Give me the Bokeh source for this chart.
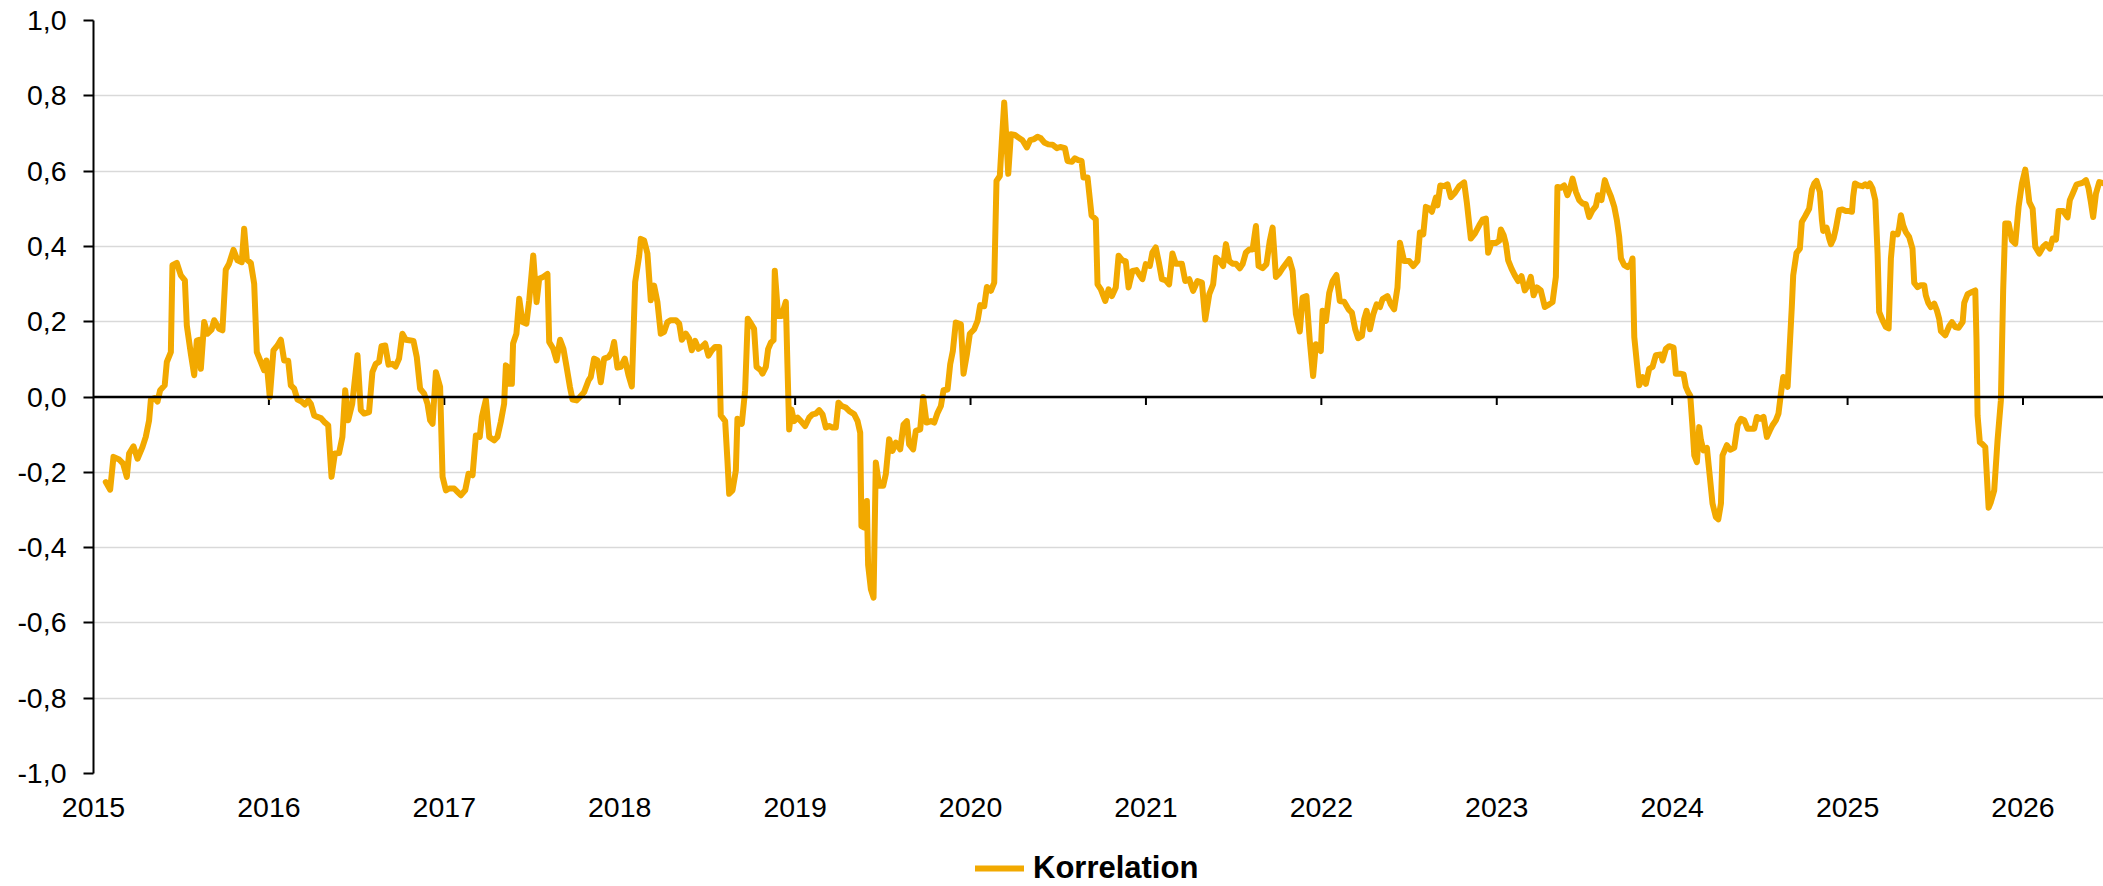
from bokeh.plotting import figure
from bokeh.layouts import column
from bokeh.models import (FixedTicker, CustomJSTickFormatter, Span, Legend,
                          LegendItem, Range1d)
from bokeh.embed import file_html
from bokeh.resources import INLINE

# ---------------- data ----------------
YEAR_TICKS = [2015, 2016, 2017, 2018, 2019, 2020, 2021, 2022, 2023, 2024, 2025, 2026]
Y_TICKS = [-1.0, -0.8, -0.6, -0.4, -0.2, 0.0, 0.2, 0.4, 0.6, 0.8, 1.0]
SERIES_NAME = "Korrelation"

dates = [
    2015.070, 2015.095, 2015.114, 2015.146, 2015.169, 2015.190, 2015.203, 2015.228, 2015.251, 2015.279,
    2015.298, 2015.317, 2015.327, 2015.349, 2015.365, 2015.380, 2015.406, 2015.418, 2015.441, 2015.450,
    2015.475, 2015.498, 2015.521, 2015.532, 2015.555, 2015.574, 2015.589, 2015.602, 2015.612, 2015.631,
    2015.650, 2015.673, 2015.688, 2015.716, 2015.735, 2015.754, 2015.773, 2015.798, 2015.821, 2015.845,
    2015.859, 2015.874, 2015.897, 2015.916, 2015.931, 2015.954, 2015.973, 2015.986, 2016.005, 2016.026,
    2016.049, 2016.068, 2016.087, 2016.110, 2016.125, 2016.144, 2016.163, 2016.186, 2016.205, 2016.224,
    2016.239, 2016.258, 2016.277, 2016.296, 2016.315, 2016.338, 2016.357, 2016.376, 2016.400, 2016.419,
    2016.435, 2016.452, 2016.475, 2016.505, 2016.524, 2016.543, 2016.571, 2016.590, 2016.609, 2016.628,
    2016.642, 2016.663, 2016.682, 2016.704, 2016.722, 2016.742, 2016.761, 2016.780, 2016.809, 2016.824,
    2016.843, 2016.862, 2016.885, 2016.904, 2016.919, 2016.933, 2016.952, 2016.976, 2016.990, 2017.009,
    2017.028, 2017.056, 2017.075, 2017.094, 2017.119, 2017.138, 2017.161, 2017.180, 2017.202, 2017.214,
    2017.237, 2017.256, 2017.284, 2017.303, 2017.322, 2017.341, 2017.351, 2017.360, 2017.370, 2017.385,
    2017.392, 2017.411, 2017.427, 2017.446, 2017.468, 2017.484, 2017.507, 2017.526, 2017.541, 2017.564,
    2017.588, 2017.598, 2017.621, 2017.640, 2017.660, 2017.679, 2017.697, 2017.716, 2017.731, 2017.754,
    2017.773, 2017.797, 2017.822, 2017.835, 2017.854, 2017.873, 2017.892, 2017.911, 2017.936, 2017.955,
    2017.968, 2017.987, 2018.006, 2018.029, 2018.050, 2018.069, 2018.088, 2018.111, 2018.120, 2018.139,
    2018.158, 2018.177, 2018.196, 2018.215, 2018.234, 2018.253, 2018.272, 2018.291, 2018.320, 2018.339,
    2018.354, 2018.377, 2018.396, 2018.411, 2018.430, 2018.449, 2018.472, 2018.487, 2018.506, 2018.525,
    2018.544, 2018.567, 2018.576, 2018.601, 2018.614, 2018.624, 2018.643, 2018.662, 2018.671, 2018.696,
    2018.715, 2018.730, 2018.747, 2018.766, 2018.780, 2018.804, 2018.814, 2018.833, 2018.846, 2018.861,
    2018.877, 2018.884, 2018.903, 2018.922, 2018.947, 2018.956, 2018.966, 2018.979, 2018.994, 2019.014,
    2019.033, 2019.057, 2019.080, 2019.099, 2019.118, 2019.137, 2019.156, 2019.175, 2019.194, 2019.213,
    2019.232, 2019.247, 2019.266, 2019.289, 2019.308, 2019.337, 2019.356, 2019.371, 2019.378, 2019.394,
    2019.409, 2019.416, 2019.432, 2019.447, 2019.460, 2019.479, 2019.502, 2019.517, 2019.536, 2019.555,
    2019.574, 2019.599, 2019.618, 2019.637, 2019.650, 2019.673, 2019.688, 2019.713, 2019.730, 2019.749,
    2019.774, 2019.793, 2019.812, 2019.831, 2019.846, 2019.869, 2019.884, 2019.899, 2019.916, 2019.945,
    2019.960, 2019.979, 2019.996, 2020.021, 2020.040, 2020.055, 2020.078, 2020.093, 2020.116, 2020.135,
    2020.148, 2020.167, 2020.178, 2020.192, 2020.205, 2020.215, 2020.230, 2020.253, 2020.274, 2020.296,
    2020.321, 2020.340, 2020.363, 2020.382, 2020.401, 2020.420, 2020.443, 2020.467, 2020.492, 2020.511,
    2020.538, 2020.553, 2020.578, 2020.595, 2020.614, 2020.633, 2020.644, 2020.667, 2020.690, 2020.714,
    2020.724, 2020.743, 2020.768, 2020.787, 2020.806, 2020.828, 2020.844, 2020.866, 2020.885, 2020.901,
    2020.923, 2020.946, 2020.961, 2020.980, 2020.999, 2021.022, 2021.037, 2021.056, 2021.075, 2021.091,
    2021.113, 2021.132, 2021.151, 2021.170, 2021.205, 2021.224, 2021.247, 2021.269, 2021.294, 2021.319,
    2021.338, 2021.361, 2021.383, 2021.399, 2021.421, 2021.440, 2021.456, 2021.475, 2021.494, 2021.513,
    2021.535, 2021.551, 2021.570, 2021.589, 2021.608, 2021.627, 2021.642, 2021.665, 2021.687, 2021.706,
    2021.722, 2021.741, 2021.760, 2021.779, 2021.798, 2021.817, 2021.836, 2021.855, 2021.877, 2021.893,
    2021.915, 2021.934, 2021.953, 2021.969, 2021.984, 2021.997, 2022.007, 2022.026, 2022.045, 2022.064,
    2022.086, 2022.105, 2022.130, 2022.155, 2022.174, 2022.193, 2022.210, 2022.231, 2022.244, 2022.258,
    2022.277, 2022.296, 2022.315, 2022.334, 2022.349, 2022.377, 2022.396, 2022.415, 2022.434, 2022.448,
    2022.472, 2022.501, 2022.524, 2022.548, 2022.562, 2022.581, 2022.596, 2022.615, 2022.630, 2022.653,
    2022.662, 2022.678, 2022.700, 2022.719, 2022.738, 2022.761, 2022.786, 2022.814, 2022.830, 2022.852,
    2022.875, 2022.900, 2022.919, 2022.938, 2022.951, 2022.970, 2022.995, 2023.014, 2023.023, 2023.039,
    2023.052, 2023.065, 2023.084, 2023.103, 2023.122, 2023.141, 2023.160, 2023.179, 2023.194, 2023.210,
    2023.229, 2023.251, 2023.274, 2023.299, 2023.318, 2023.337, 2023.346, 2023.365, 2023.384, 2023.403,
    2023.419, 2023.432, 2023.451, 2023.470, 2023.489, 2023.508, 2023.527, 2023.546, 2023.565, 2023.578,
    2023.597, 2023.616, 2023.632, 2023.651, 2023.670, 2023.685, 2023.698, 2023.708, 2023.727, 2023.746,
    2023.765, 2023.774, 2023.784, 2023.799, 2023.812, 2023.831, 2023.850, 2023.869, 2023.888, 2023.907,
    2023.936, 2023.945, 2023.964, 2023.983, 2024.008, 2024.021, 2024.046, 2024.065, 2024.078, 2024.091,
    2024.103, 2024.116, 2024.126, 2024.141, 2024.154, 2024.164, 2024.179, 2024.198, 2024.211, 2024.230,
    2024.249, 2024.263, 2024.278, 2024.287, 2024.312, 2024.331, 2024.354, 2024.373, 2024.392, 2024.411,
    2024.430, 2024.449, 2024.468, 2024.483, 2024.502, 2024.521, 2024.540, 2024.557, 2024.572, 2024.591,
    2024.606, 2024.620, 2024.633, 2024.644, 2024.658, 2024.667, 2024.682, 2024.690, 2024.709, 2024.728,
    2024.739, 2024.758, 2024.781, 2024.797, 2024.810, 2024.823, 2024.842, 2024.854, 2024.861, 2024.880,
    2024.895, 2024.905, 2024.920, 2024.933, 2024.952, 2024.971, 2024.990, 2025.009, 2025.025, 2025.032,
    2025.042, 2025.063, 2025.085, 2025.101, 2025.114, 2025.127, 2025.142, 2025.158, 2025.171, 2025.180,
    2025.199, 2025.218, 2025.234, 2025.247, 2025.260, 2025.285, 2025.294, 2025.304, 2025.317, 2025.332,
    2025.351, 2025.370, 2025.380, 2025.399, 2025.418, 2025.437, 2025.446, 2025.460, 2025.475, 2025.494,
    2025.509, 2025.522, 2025.532, 2025.557, 2025.579, 2025.595, 2025.614, 2025.633, 2025.656, 2025.665,
    2025.684, 2025.709, 2025.728, 2025.735, 2025.741, 2025.754, 2025.770, 2025.785, 2025.804, 2025.817,
    2025.836, 2025.855, 2025.874, 2025.887, 2025.899, 2025.918, 2025.937, 2025.956, 2025.975, 2025.994,
    2026.013, 2026.026, 2026.036, 2026.055, 2026.070, 2026.093, 2026.115, 2026.131, 2026.153, 2026.169,
    2026.188, 2026.203, 2026.229, 2026.254, 2026.267, 2026.283, 2026.305, 2026.324, 2026.340, 2026.359,
    2026.374, 2026.387, 2026.400, 2026.416, 2026.435, 2026.461,
]

korrelation = [
    -0.226, -0.246, -0.159, -0.166, -0.177, -0.212, -0.150, -0.131, -0.164, -0.133,
    -0.106, -0.062, -0.007, -0.003, -0.012, 0.018, 0.031, 0.093, 0.119, 0.350,
    0.356, 0.323, 0.310, 0.190, 0.115, 0.058, 0.150, 0.152, 0.075, 0.199,
    0.168, 0.179, 0.204, 0.181, 0.177, 0.338, 0.354, 0.391, 0.363, 0.358,
    0.447, 0.365, 0.356, 0.301, 0.119, 0.093, 0.071, 0.097, 0.000, 0.124,
    0.137, 0.152, 0.097, 0.096, 0.031, 0.022, -0.007, -0.012, -0.020, -0.009,
    -0.018, -0.049, -0.053, -0.056, -0.066, -0.075, -0.212, -0.150, -0.149, -0.106,
    0.018, -0.062, -0.018, 0.111, -0.035, -0.044, -0.040, 0.066, 0.088, 0.093,
    0.135, 0.137, 0.086, 0.088, 0.081, 0.102, 0.168, 0.152, 0.150, 0.149,
    0.106, 0.022, 0.009, -0.018, -0.062, -0.071, 0.066, 0.027, -0.212, -0.248,
    -0.243, -0.243, -0.252, -0.261, -0.248, -0.204, -0.208, -0.102, -0.106, -0.053,
    -0.007, -0.106, -0.115, -0.106, -0.066, -0.018, 0.084, 0.080, 0.035, 0.035,
    0.142, 0.168, 0.261, 0.199, 0.195, 0.257, 0.376, 0.252, 0.314, 0.319,
    0.327, 0.146, 0.128, 0.097, 0.152, 0.128, 0.080, 0.027, -0.007, -0.009,
    0.000, 0.013, 0.044, 0.053, 0.102, 0.097, 0.039, 0.102, 0.106, 0.119,
    0.146, 0.078, 0.080, 0.102, 0.058, 0.028, 0.305, 0.376, 0.420, 0.416,
    0.381, 0.257, 0.296, 0.252, 0.168, 0.173, 0.199, 0.204, 0.204, 0.195,
    0.152, 0.168, 0.155, 0.124, 0.149, 0.128, 0.135, 0.142, 0.110, 0.124,
    0.133, 0.133, -0.049, -0.064, -0.168, -0.257, -0.248, -0.195, -0.058, -0.071,
    0.018, 0.208, 0.196, 0.181, 0.080, 0.071, 0.062, 0.080, 0.127, 0.144,
    0.151, 0.335, 0.215, 0.215, 0.253, 0.087, -0.086, -0.033, -0.064, -0.055,
    -0.064, -0.077, -0.055, -0.046, -0.044, -0.035, -0.046, -0.081, -0.077, -0.081,
    -0.081, -0.015, -0.024, -0.028, -0.037, -0.046, -0.064, -0.095, -0.343, -0.347,
    -0.276, -0.445, -0.511, -0.533, -0.174, -0.236, -0.236, -0.205, -0.112, -0.143,
    -0.121, -0.139, -0.073, -0.064, -0.126, -0.139, -0.090, -0.086, 0.000, -0.068,
    -0.064, -0.068, -0.042, -0.024, 0.018, 0.020, 0.087, 0.122, 0.198, 0.193,
    0.062, 0.113, 0.168, 0.180, 0.202, 0.244, 0.241, 0.292, 0.282, 0.304,
    0.574, 0.587, 0.676, 0.782, 0.680, 0.593, 0.698, 0.696, 0.689, 0.682,
    0.663, 0.682, 0.685, 0.691, 0.687, 0.676, 0.671, 0.670, 0.661, 0.664,
    0.661, 0.627, 0.625, 0.634, 0.629, 0.627, 0.583, 0.583, 0.482, 0.472,
    0.299, 0.286, 0.255, 0.286, 0.268, 0.291, 0.375, 0.363, 0.360, 0.291,
    0.335, 0.337, 0.326, 0.313, 0.353, 0.348, 0.384, 0.397, 0.354, 0.313,
    0.310, 0.299, 0.381, 0.354, 0.354, 0.308, 0.313, 0.282, 0.308, 0.304,
    0.206, 0.273, 0.299, 0.370, 0.361, 0.348, 0.406, 0.361, 0.354, 0.354,
    0.342, 0.353, 0.384, 0.392, 0.392, 0.454, 0.348, 0.342, 0.353, 0.415,
    0.450, 0.319, 0.328, 0.342, 0.354, 0.366, 0.335, 0.220, 0.174, 0.264,
    0.268, 0.149, 0.056, 0.140, 0.131, 0.122, 0.229, 0.202, 0.277, 0.308,
    0.324, 0.255, 0.253, 0.233, 0.224, 0.180, 0.156, 0.162, 0.206, 0.229,
    0.180, 0.220, 0.246, 0.239, 0.260, 0.268, 0.246, 0.233, 0.291, 0.410,
    0.361, 0.361, 0.348, 0.361, 0.437, 0.432, 0.505, 0.501, 0.492, 0.530,
    0.509, 0.562, 0.560, 0.565, 0.531, 0.542, 0.560, 0.570, 0.514, 0.421,
    0.434, 0.456, 0.471, 0.474, 0.383, 0.409, 0.409, 0.415, 0.445, 0.430,
    0.407, 0.363, 0.341, 0.323, 0.308, 0.321, 0.283, 0.297, 0.319, 0.270,
    0.291, 0.283, 0.239, 0.246, 0.252, 0.319, 0.558, 0.556, 0.562, 0.536,
    0.556, 0.580, 0.545, 0.523, 0.514, 0.512, 0.478, 0.496, 0.507, 0.536,
    0.523, 0.576, 0.554, 0.533, 0.505, 0.469, 0.425, 0.368, 0.350, 0.345,
    0.354, 0.368, 0.159, 0.089, 0.031, 0.053, 0.035, 0.075, 0.080, 0.111,
    0.113, 0.097, 0.128, 0.135, 0.131, 0.062, 0.062, 0.060, 0.027, 0.013,
    0.004, -0.080, -0.155, -0.173, -0.080, -0.115, -0.142, -0.135, -0.195, -0.283,
    -0.319, -0.325, -0.283, -0.155, -0.128, -0.140, -0.135, -0.075, -0.058, -0.062,
    -0.084, -0.084, -0.084, -0.053, -0.058, -0.053, -0.106, -0.089, -0.075, -0.062,
    -0.044, 0.009, 0.053, 0.051, 0.027, 0.106, 0.239, 0.323, 0.383, 0.394,
    0.465, 0.480, 0.500, 0.551, 0.567, 0.574, 0.545, 0.469, 0.441, 0.450,
    0.421, 0.406, 0.421, 0.447, 0.496, 0.498, 0.494, 0.494, 0.492, 0.533,
    0.567, 0.562, 0.560, 0.565, 0.560, 0.567, 0.554, 0.523, 0.381, 0.226,
    0.204, 0.186, 0.182, 0.368, 0.434, 0.432, 0.450, 0.483, 0.456, 0.438,
    0.425, 0.394, 0.303, 0.292, 0.297, 0.297, 0.270, 0.250, 0.239, 0.248,
    0.230, 0.208, 0.175, 0.164, 0.188, 0.199, 0.186, 0.184, 0.199, 0.250,
    0.273, 0.279, 0.283, 0.151, -0.049, -0.120, -0.126, -0.133, -0.294, -0.279,
    -0.248, -0.115, -0.009, 0.283, 0.461, 0.461, 0.416, 0.407, 0.505, 0.567,
    0.604, 0.558, 0.518, 0.500, 0.399, 0.381, 0.399, 0.406, 0.394, 0.421,
    0.418, 0.494, 0.494, 0.477, 0.523, 0.540, 0.564, 0.567, 0.569, 0.576,
    0.554, 0.518, 0.478, 0.540, 0.571, 0.567,
]

# ---------------- styling ----------------
LINE_COLOR = "#F2A900"
LINE_WIDTH = 6
FONT = "Liberation Sans"
TICK_LEN = 0.0212   # tick marks hanging below the zero line (data units, ~8px)

p = figure(width=2103, height=840, output_backend="svg", toolbar_location=None,
           x_range=Range1d(2015, 2026.459), y_range=Range1d(-1, 1),
           min_border_left=93, min_border_right=0, min_border_top=20, min_border_bottom=67,
           background_fill_color="white", border_fill_color="white")
p.outline_line_color = None

# grid
p.xgrid.visible = False
p.ygrid.grid_line_color = "#D9D9D9"
p.ygrid.grid_line_width = 1.5

# y axis
p.yaxis.ticker = FixedTicker(ticks=Y_TICKS)
p.yaxis.formatter = CustomJSTickFormatter(code="return tick.toFixed(1).replace('.', ',');")
p.yaxis.axis_line_color = "black"
p.yaxis.axis_line_width = 2
p.yaxis.major_tick_line_color = "black"
p.yaxis.major_tick_line_width = 2
p.yaxis.major_tick_out = 10
p.yaxis.major_tick_in = 0
p.yaxis.minor_tick_line_color = None
p.yaxis.major_label_standoff = 17
p.yaxis.major_label_text_font = FONT
p.yaxis.major_label_text_font_size = "28.5px"
p.yaxis.major_label_text_color = "black"

# x axis (labels only, at the bottom)
p.xaxis.ticker = FixedTicker(ticks=YEAR_TICKS)
p.xaxis.formatter = CustomJSTickFormatter(code="return tick.toFixed(0);")
p.xaxis.axis_line_color = None
p.xaxis.major_tick_line_color = None
p.xaxis.minor_tick_line_color = None
p.xaxis.major_tick_out = 0
p.xaxis.major_tick_in = 0
p.xaxis.major_label_standoff = 24
p.xaxis.major_label_text_font = FONT
p.xaxis.major_label_text_font_size = "28.5px"
p.xaxis.major_label_text_color = "black"

# zero line with the year tick marks
p.add_layout(Span(location=0, dimension="width", line_color="black", line_width=2.5))
p.segment(x0=YEAR_TICKS[1:], y0=[0] * (len(YEAR_TICKS) - 1),
          x1=YEAR_TICKS[1:], y1=[-TICK_LEN] * (len(YEAR_TICKS) - 1),
          line_color="black", line_width=2)

# data line
p.line(dates, korrelation, line_color=LINE_COLOR, line_width=LINE_WIDTH,
       line_join="round", line_cap="round")

# ---------------- legend strip underneath ----------------
# The same series is drawn here again, but outside the visible y window, so that
# only its legend key is seen.
leg = figure(width=2103, height=46, output_backend="svg", toolbar_location=None,
             x_range=Range1d(2015, 2026.459), y_range=Range1d(2, 3),
             x_axis_location=None, y_axis_location=None,
             min_border_left=93, min_border_right=0, min_border_top=0, min_border_bottom=0,
             background_fill_color="white", border_fill_color="white")
leg.outline_line_color = None
leg.grid.visible = False
key = leg.line(dates, korrelation, line_color=LINE_COLOR, line_width=LINE_WIDTH,
               line_join="round", line_cap="round")

legend = Legend(items=[LegendItem(label=SERIES_NAME, renderers=[key])],
                location=(882, 0), orientation="horizontal",
                padding=0, margin=0, spacing=0,
                border_line_color=None, background_fill_alpha=0,
                glyph_width=49, glyph_height=30, label_height=30, label_standoff=9,
                label_text_font=FONT, label_text_font_style="bold",
                label_text_font_size="31px", label_text_color="black",
                label_text_baseline="middle")
leg.add_layout(legend, "center")

layout = column(p, leg, spacing=0)
open("out.html", "w").write(file_html(layout, INLINE))
